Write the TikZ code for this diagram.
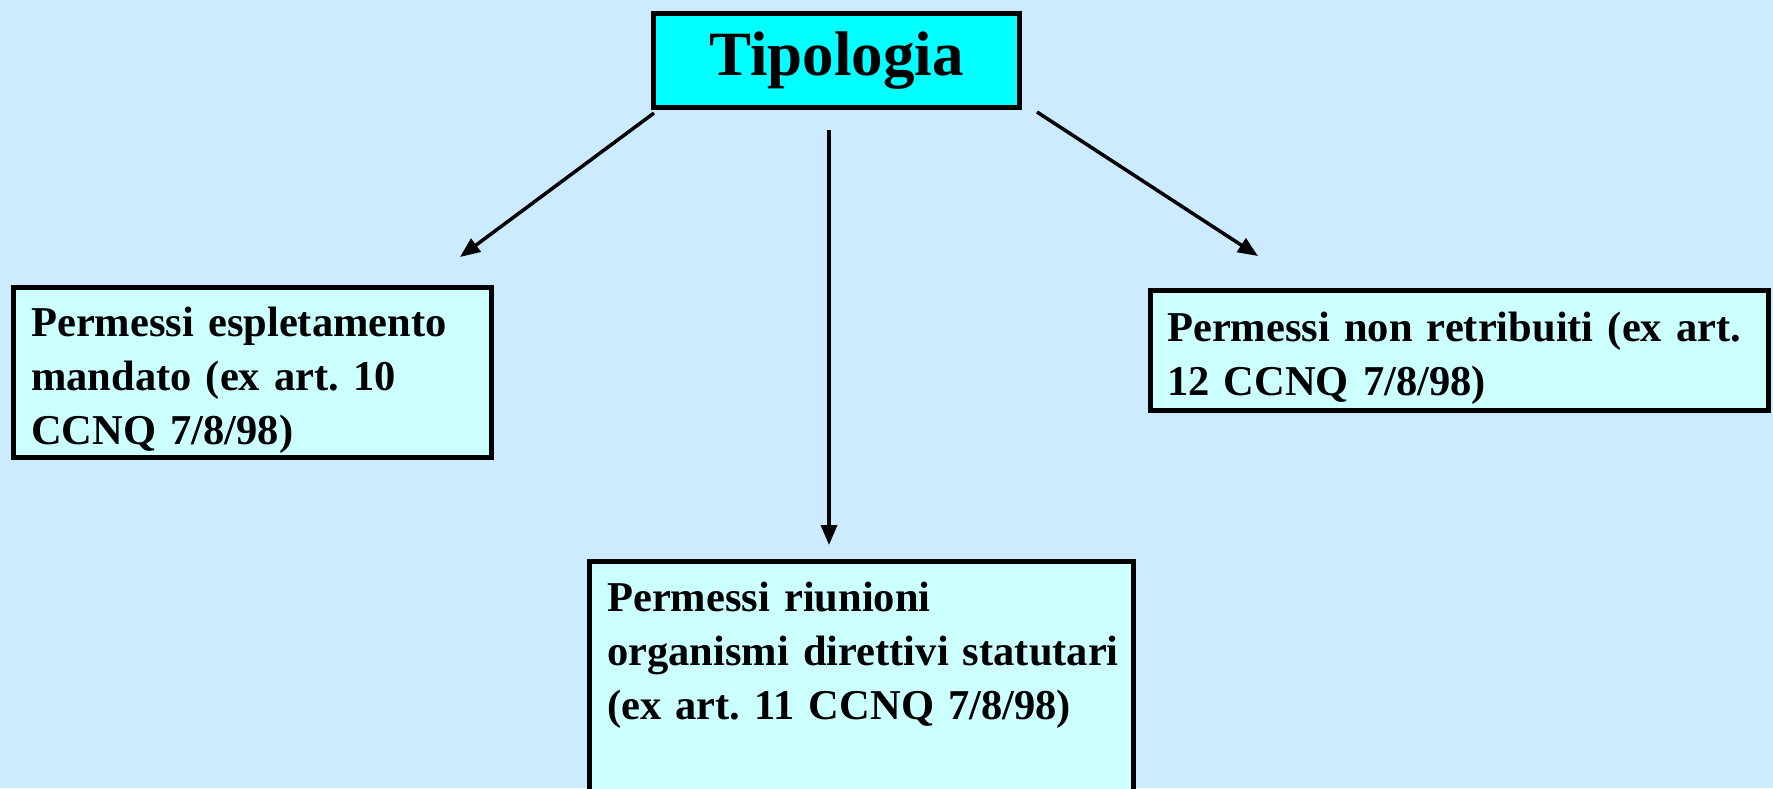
\documentclass[tikz,border=0pt]{standalone}
\usepackage{fontspec}
\setmainfont{Liberation Serif}
\usetikzlibrary{arrows.meta}
\definecolor{bg}{HTML}{CCEBFF}
\definecolor{boxfill}{HTML}{CCFFFF}
\definecolor{titlefill}{HTML}{00FFFF}
\frenchspacing
\begin{document}
\begin{tikzpicture}[x=1pt,y=-1pt,
  box/.style={draw=black,line width=5pt,fill=boxfill,inner sep=0pt},
  txt/.style={anchor=base west,inner sep=0pt,text width=600pt,align=left,
    font=\fontsize{42.5}{54}\selectfont\bfseries\frenchspacing},
  conn/.style={line width=3.5pt,-{Triangle[length=20pt,width=16pt]}}]
\fill[bg] (0,0) rectangle (1773,788);
\useasboundingbox (0,0) rectangle (1773,788);
% boxes
\node[box,fill=titlefill,minimum width=366pt,minimum height=94pt,
  font=\fontsize{63}{70}\selectfont\bfseries] (tip) at (836.5,60.5) {Tipologia};
\node[box,minimum width=478pt,minimum height=170pt] (left) at (252.5,372.5) {};
\node[box,minimum width=618pt,minimum height=120pt] (right) at (1459.5,350.5) {};
\node[box,minimum width=544pt,minimum height=260pt] (bottom) at (861.5,691.5) {};
% texts
\node[txt] (lefttxt) at (31,336) {Permessi espletamento\\mandato (ex art. 10\\CCNQ 7/8/98)};
\node[txt] (righttxt) at (1167,341) {Permessi non retribuiti (ex art.\\12 CCNQ 7/8/98)};
\node[txt] (bottomtxt) at (607,611) {Permessi riunioni\\organismi direttivi statutari\\(ex art. 11 CCNQ 7/8/98)};
% connector ends
\coordinate (ls) at (654,113);
\coordinate (le) at (460,257);
\coordinate (ms) at (829,130);
\coordinate (me) at (829,545);
\coordinate (rs) at (1037,112);
\coordinate (re) at (1258,256);
\draw[conn] (ls) -- (le);
\draw[conn] (ms) -- (me);
\draw[conn] (rs) -- (re);
\end{tikzpicture}
\end{document}
